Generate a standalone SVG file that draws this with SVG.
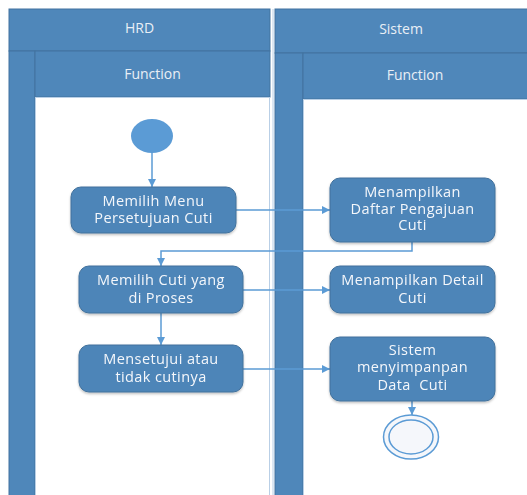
<svg xmlns="http://www.w3.org/2000/svg" width="527" height="495" viewBox="0 0 527 495">
  <style>
    .hdr { fill: #4F87BA; stroke: #42739F; stroke-width: 1; }
    .body { fill: #FFFFFF; stroke: #B9CFE6; stroke-width: 1; }
    .act { fill: #4E85B8; stroke: #41719C; stroke-width: 1; }
    .lbl { font-family: "Open Sans", "Liberation Sans", sans-serif; font-size: 14.5px; letter-spacing: 0.4px; fill: #F4F7FB; text-anchor: middle; }
    .hlbl { font-family: "Open Sans", "Liberation Sans", sans-serif; font-size: 14px; fill: #E9EFF6; text-anchor: middle; }
    .flow { fill: none; stroke: #5B9BD5; stroke-width: 1.5; }
  </style>
  <defs>
    <marker id="arrow" viewBox="0 0 10 10" refX="10" refY="5" markerWidth="8" markerHeight="8" markerUnits="userSpaceOnUse" orient="auto">
      <path d="M0,0 L10,5 L0,10 z" fill="#5B9BD5"/>
    </marker>
    <filter id="shadow" x="-10%" y="-10%" width="120%" height="130%">
      <feDropShadow dx="0" dy="1.5" stdDeviation="1.2" flood-color="#000" flood-opacity="0.25"/>
    </filter>
  </defs>

  <rect width="527" height="495" fill="#FFFFFF"/>

  <!-- Swimlane: HRD -->
  <g id="lane-hrd">
    <rect class="hdr" x="9" y="9" width="261" height="42"/>
    <rect class="hdr" x="9" y="51" width="26" height="450"/>
    <rect class="hdr" x="35" y="51" width="235" height="46"/>
    <rect class="body" x="35.5" y="97.5" width="234" height="402"/>
    <text class="hlbl" x="139.5" y="33">HRD</text>
    <text class="hlbl" x="152.5" y="78.5">Function</text>
  </g>

  <!-- Swimlane: Sistem -->
  <g id="lane-sistem">
    <line x1="273" y1="9" x2="273" y2="495" stroke="#B9CFE6" stroke-width="1"/>
    <rect class="hdr" x="275" y="9" width="255" height="44"/>
    <rect class="hdr" x="275" y="53" width="28" height="448"/>
    <rect class="hdr" x="303" y="53" width="227" height="46"/>
    <rect class="body" x="303.5" y="99.5" width="226" height="400"/>
    <text class="hlbl" x="401" y="33.5">Sistem</text>
    <text class="hlbl" x="415" y="79.5">Function</text>
  </g>

  <!-- Connectors -->
  <g id="connectors">
    <path class="flow" d="M152,153 L152,187" marker-end="url(#arrow)"/>
    <path class="flow" d="M236,210 L330,210" marker-end="url(#arrow)"/>
    <path class="flow" d="M412,242 L412,251 L161,251 L161,266" marker-end="url(#arrow)"/>
    <path class="flow" d="M243,290 L330,290" marker-end="url(#arrow)"/>
    <path class="flow" d="M161,313 L161,345" marker-end="url(#arrow)"/>
    <path class="flow" d="M243,369 L330,369" marker-end="url(#arrow)"/>
    <path class="flow" d="M412,401 L412,415" marker-end="url(#arrow)"/>
  </g>

  <!-- Initial node -->
  <g id="start">
    <ellipse cx="152" cy="136" rx="21" ry="17" fill="#5B9BD5"/>
  </g>

  <!-- HRD activities -->
  <g id="memilih-menu" filter="url(#shadow)">
    <rect class="act" x="71" y="187" width="165" height="46" rx="10"/>
    <text class="lbl"><tspan x="153.5" y="206">Memilih Menu</tspan><tspan x="153.5" y="223">Persetujuan Cuti</tspan></text>
  </g>
  <g id="memilih-cuti" filter="url(#shadow)">
    <rect class="act" x="79" y="266" width="164" height="47" rx="10"/>
    <text class="lbl"><tspan x="161" y="285">Memilih Cuti yang</tspan><tspan x="161" y="302.5">di Proses</tspan></text>
  </g>
  <g id="mensetujui" filter="url(#shadow)">
    <rect class="act" x="79" y="345" width="164" height="47" rx="10"/>
    <text class="lbl"><tspan x="161" y="364">Mensetujui atau</tspan><tspan x="161" y="381.5">tidak cutinya</tspan></text>
  </g>

  <!-- Sistem activities -->
  <g id="tampil-daftar" filter="url(#shadow)">
    <rect class="act" x="330" y="178" width="165" height="64" rx="10"/>
    <text class="lbl"><tspan x="412.5" y="197">Menampilkan</tspan><tspan x="412.5" y="213.5">Daftar Pengajuan</tspan><tspan x="412.5" y="230">Cuti</tspan></text>
  </g>
  <g id="tampil-detail" filter="url(#shadow)">
    <rect class="act" x="330" y="266" width="165" height="47" rx="10"/>
    <text class="lbl"><tspan x="412.5" y="285">Menampilkan Detail</tspan><tspan x="412.5" y="302.5">Cuti</tspan></text>
  </g>
  <g id="simpan-data" filter="url(#shadow)">
    <rect class="act" x="330" y="337" width="165" height="64" rx="10"/>
    <text class="lbl" xml:space="preserve"><tspan x="412.5" y="355">Sistem</tspan><tspan x="412.5" y="372">menyimpanpan</tspan><tspan x="412.5" y="390">Data  Cuti</tspan></text>
  </g>

  <!-- Final node -->
  <g id="end">
    <ellipse cx="411" cy="437" rx="27.5" ry="22" fill="#F5F7FB" stroke="#5B9BD5" stroke-width="1.5"/>
    <ellipse cx="411" cy="437" rx="22" ry="17" fill="none" stroke="#5B9BD5" stroke-width="1.5"/>
  </g>
</svg>
